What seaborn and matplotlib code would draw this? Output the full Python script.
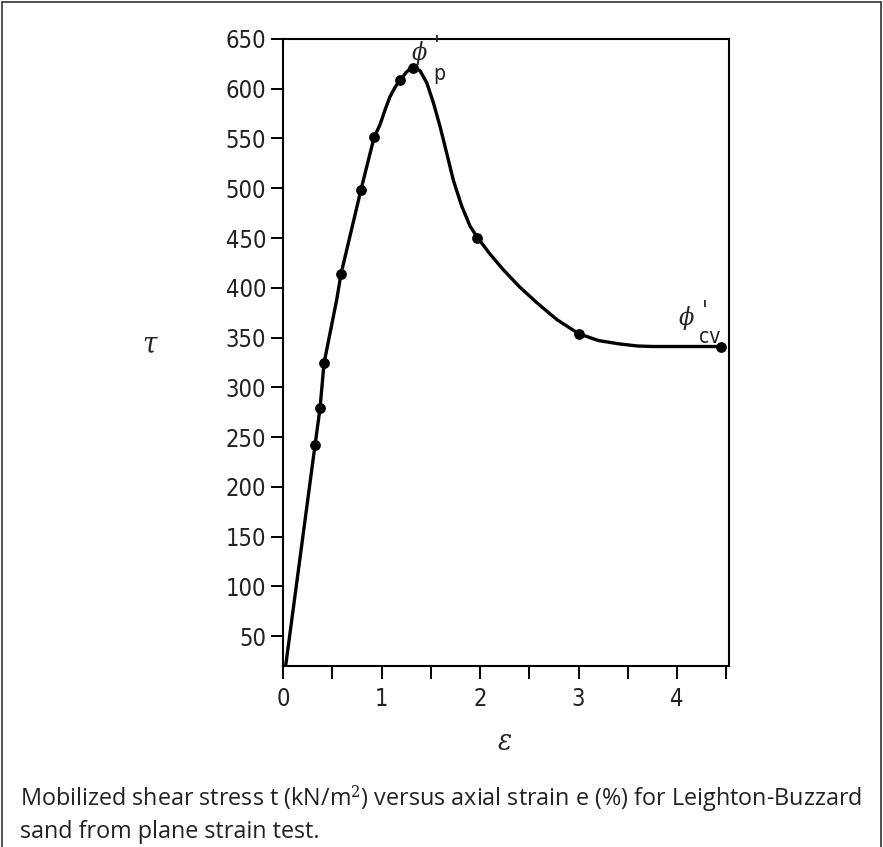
import numpy as np
import pandas as pd
import seaborn as sns
import matplotlib.pyplot as plt

# ==========================================
# Dados (tensão x deformação)
# ==========================================
# pontos medidos (marcadores)
strain_pts = [0.325, 0.376, 0.416, 0.589, 0.79, 0.924, 1.19, 1.32, 1.97, 3.0, 4.45]
stress_pts = [242, 279, 324, 414, 498, 551, 609, 621, 450, 354, 341]

# vértices da curva desenhada (lidos ao longo da linha)
curve_strain = [0.0, 0.325, 0.376, 0.416, 0.545, 0.589, 0.79, 0.924, 0.985, 1.04, 1.086,
                1.14, 1.19, 1.256, 1.30, 1.34, 1.391, 1.459, 1.526, 1.594, 1.662,
                1.729, 1.814, 1.898, 1.97, 2.1, 2.237, 2.4, 2.576, 2.78, 2.998,
                3.2, 3.421, 3.6, 3.756, 4.1, 4.45]
curve_stress = [0, 242, 279, 324, 388, 414, 498, 551, 564, 580, 592,
                602, 609, 617, 621, 621, 618, 606, 586, 562, 535,
                508, 482, 462, 451, 434, 418, 401, 385, 368, 354,
                347, 343.5, 341.5, 341, 341, 341]

x_ticks = [0, 0.5, 1, 1.5, 2, 2.5, 3, 3.5, 4, 4.5]
x_labels = ["0", "", "1", "", "2", "", "3", "", "4", ""]
y_ticks = list(range(50, 651, 50))

caption = ("Mobilized shear stress t (kN/m$^2$) versus axial strain e (%) for Leighton-Buzzard\n"
           "sand from plane strain test.")

# ==========================================
# Estilo
# ==========================================
sns.set_theme(style="ticks")
plt.rcParams['font.family'] = ['DejaVu Sans']
plt.rcParams['font.stretch'] = 'condensed'
plt.rcParams['mathtext.fontset'] = 'dejavuserif'

fig = plt.figure(figsize=(8.83, 8.47), dpi=100)
ax = fig.add_axes([0.3205, 0.2137, 0.826 - 0.3205, 0.954 - 0.2137])

df_curve = pd.DataFrame({'strain': curve_strain, 'stress': curve_stress})
df_pts = pd.DataFrame({'strain': strain_pts, 'stress': stress_pts})

sns.lineplot(data=df_curve, x='strain', y='stress', sort=False, estimator=None,
             color='black', linewidth=2.4, ax=ax, solid_joinstyle='round')
sns.scatterplot(data=df_pts, x='strain', y='stress', color='black', s=60,
                edgecolor='black', linewidth=0, ax=ax, zorder=5, clip_on=False)

ax.set_xlim(0, 4.53)
ax.set_ylim(20, 650)
ax.set_xticks(x_ticks)
ax.set_xticklabels(x_labels)
ax.set_yticks(y_ticks)
ax.set_yticklabels([str(v) for v in y_ticks])
ax.tick_params(axis='both', direction='out', length=9, width=1.4, labelsize=17,
               colors='black', labelcolor='#222222', pad=3)
ax.tick_params(axis='x', pad=6)
for s in ax.spines.values():
    s.set_linewidth(1.5)
    s.set_color('black')
    s.set_visible(True)
ax.set_xlabel("")
ax.set_ylabel("")

# rótulos dos eixos (símbolos gregos)
fig.text(150 / 883, 1 - 345 / 847, r"$\tau$", fontsize=21, ha='center', va='center')
fig.text(505 / 883, 1 - 742 / 847, r"$\varepsilon$", fontsize=21, ha='center', va='center')

# anotações phi (pico e volume constante)
ax.text(1.39, 636, r"$\phi$", fontsize=18, ha='center', va='center')
ax.text(1.56, 643, "'", fontsize=17, ha='center', va='center', style='italic')
ax.text(1.59, 615, "p", fontsize=15, ha='center', va='center', color='#222222')
ax.text(4.09, 370, r"$\phi$", fontsize=18, ha='center', va='center')
ax.text(4.28, 377, "'", fontsize=17, ha='center', va='center', style='italic')
ax.text(4.33, 351, "cv", fontsize=15, ha='center', va='center', color='#222222')

# legenda da figura
fig.text(20 / 883, 1 - 814 / 847, caption, fontsize=16.8, ha='left', va='center',
         family=['Open Sans', 'DejaVu Sans'], stretch='normal', linespacing=1.3,
         color='#222222')

# moldura externa
fig.add_artist(plt.Line2D([0.002, 0.002], [0, 0.998], color='#333333', lw=1.2))
fig.add_artist(plt.Line2D([0.998, 0.998], [0, 0.998], color='#333333', lw=1.2))
fig.add_artist(plt.Line2D([0.002, 0.998], [0.998, 0.998], color='#333333', lw=1.2))

plt.savefig("out.png", dpi=100)
